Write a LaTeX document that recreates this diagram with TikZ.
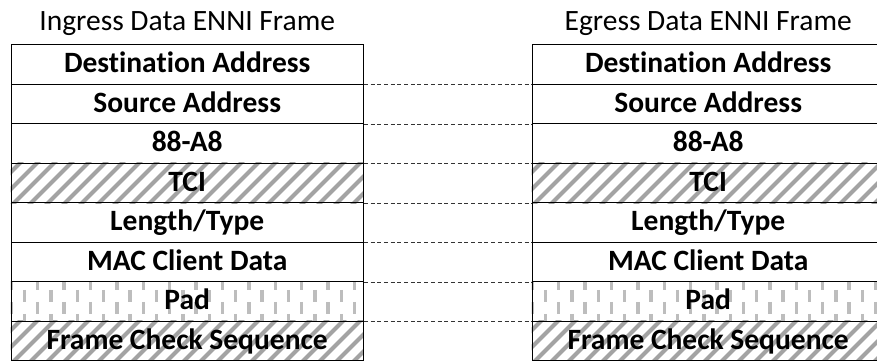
\documentclass[tikz,border=0pt]{standalone}
\usepackage{fontspec}
\setmainfont{Carlito}[Ligatures=NoCommon]
\usetikzlibrary{backgrounds}
\definecolor{stripegray}{HTML}{A3A3A3}
\definecolor{padgray}{HTML}{BDBDBD}
\definecolor{dashgray}{HTML}{333333}
\tikzset{
  field/.style={draw=black, line width=1pt, minimum width=352.3pt, minimum height=39.5pt,
    inner sep=0pt, text height=22pt, text depth=5pt,
    font=\fontsize{29.5}{34}\selectfont\bfseries},
  title/.style={inner sep=0pt, anchor=base, font=\fontsize{29.5}{34}\selectfont},
  stripeline/.style={stripegray, line width=4pt},
  padline/.style={padgray, line width=3.5pt, dash pattern=on 12pt off 12pt},
  link/.style={draw=dashgray, line width=1pt, dash pattern=on 4pt off 2.7pt}
}
\begin{document}
\begin{tikzpicture}[x=1pt,y=-1pt]
\useasboundingbox (0,0) rectangle (877,360);
\clip (0,0) rectangle (877,360);
\node[title] (tin) at (187.2,30.5) {Ingress Data ENNI Frame};
\node[title] (tout) at (708.2,30.5) {Egress Data ENNI Frame};
% left frame
\node[field] (L1) at (187.2,64.25) {Destination Address};
\node[field] (L2) at (187.2,103.75) {Source Address};
\node[field] (L3) at (187.2,143.25) {88-A8};
\node[field] (L4) at (187.2,182.75) {TCI};
\node[field] (L5) at (187.2,222.25) {Length/Type};
\node[field] (L6) at (187.2,261.75) {MAC Client Data};
\node[field] (L7) at (187.2,301.25) {Pad};
\node[field] (L8) at (187.2,340.75) {Frame Check Sequence};
% right frame
\node[field] (R1) at (708.2,64.25) {Destination Address};
\node[field] (R2) at (708.2,103.75) {Source Address};
\node[field] (R3) at (708.2,143.25) {88-A8};
\node[field] (R4) at (708.2,182.75) {TCI};
\node[field] (R5) at (708.2,222.25) {Length/Type};
\node[field] (R6) at (708.2,261.75) {MAC Client Data};
\node[field] (R7) at (708.2,301.25) {Pad};
\node[field] (R8) at (708.2,340.75) {Frame Check Sequence};
% fill patterns behind the texts
\begin{scope}[on background layer]
  \foreach \b in {L,R}{
    \foreach \r in {4,8}{
      \begin{scope}
        \clip (\b\r.south west) rectangle (\b\r.north east);
        \foreach \k in {-13,...,13}{
          \draw[stripeline, shift={(\b\r.center)}] (\k*17-40,40) -- ++(80,-80);
        }
      \end{scope}
    }
    \begin{scope}
      \clip (\b7.south west) rectangle (\b7.north east);
      \foreach \j in {0,2,...,28}{
        \draw[padline, shift={(\b7.west)}] (0.7+\j*13.2,-23.4) -- ++(0,48);
      }
      \foreach \j in {1,3,...,27}{
        \draw[padline, shift={(\b7.west)}] (0.7+\j*13.2,-35.4) -- ++(0,60);
      }
    \end{scope}
  }
\end{scope}
% connectors
\foreach \i in {1,...,7}{
  \draw[link] (L\i.south east) -- (R\i.south west);
}
\end{tikzpicture}
\end{document}
